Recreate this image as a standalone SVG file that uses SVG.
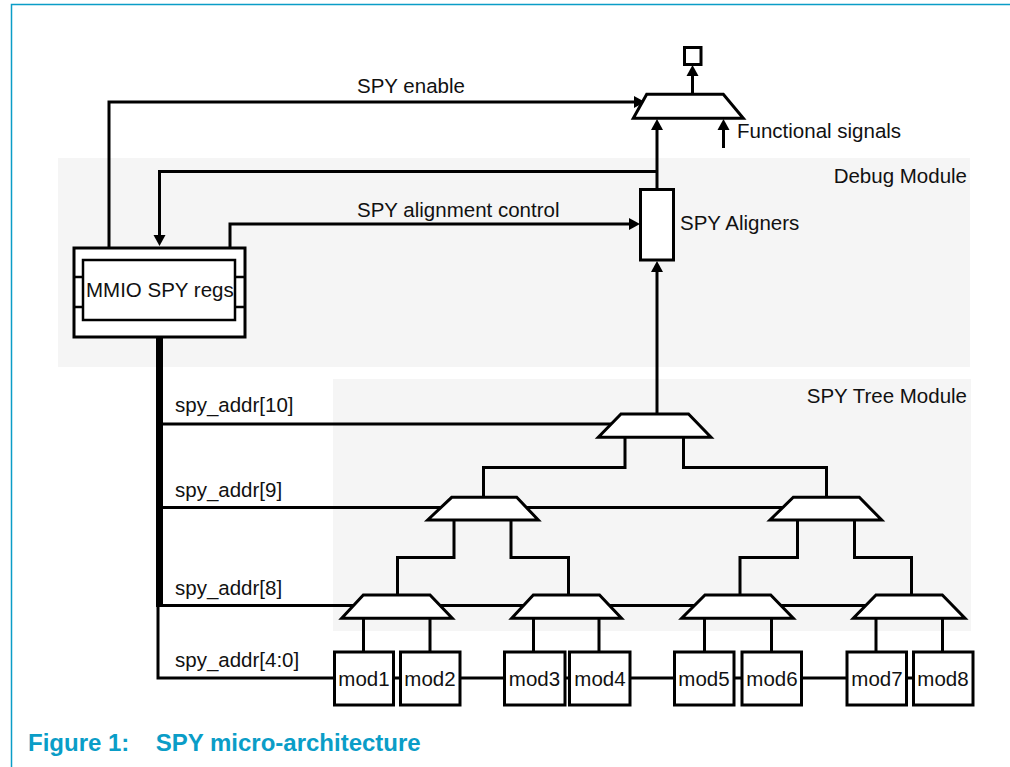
<svg xmlns="http://www.w3.org/2000/svg" width="1010" height="767" viewBox="0 0 1010 767">
<style>
  .t{font-family:"Liberation Sans",Arial,sans-serif;font-size:20.5px;fill:#111}
  .cap{font-family:"Liberation Sans",Arial,sans-serif;font-size:24px;font-weight:bold;fill:#0a9dc7}
  .w{fill:none;stroke:#000;stroke-width:3}
  .box{fill:#fff;stroke:#000;stroke-width:3}
  .mux{fill:#fff;stroke:#000;stroke-width:3;stroke-linejoin:miter}
  .bg{fill:#f5f5f5}
</style>
<defs>
  <marker id="ah" markerUnits="userSpaceOnUse" markerWidth="12" markerHeight="12" refX="2" refY="6" orient="auto" overflow="visible">
    <path d="M0,0 L11,6 L0,12 z" fill="#000"/>
  </marker>
</defs>
<rect width="1010" height="767" fill="#fff"/>
<path d="M11.5,767 V4.5 H1010" fill="none" stroke="#0a9dc7" stroke-width="1.5"/>

<g id="debug-module">
  <rect class="bg" x="58" y="158" width="912" height="209"/>
  <text class="t" x="967" y="183" text-anchor="end">Debug Module</text>
</g>
<g id="tree-module">
  <rect class="bg" x="333" y="379" width="638" height="252"/>
  <text class="t" x="967" y="402.5" text-anchor="end">SPY Tree Module</text>
</g>

<g id="connectors">
  <path class="w" d="M109,247 V102 H636" marker-end="url(#ah)"/>
  <path class="w" d="M657,171.5 H159.5 V237" marker-end="url(#ah)"/>
  <path class="w" d="M230,247 V224 H631" marker-end="url(#ah)"/>
  <path class="w" d="M657,189 V128" marker-end="url(#ah)"/>
  <path class="w" d="M723.5,148 V128" marker-end="url(#ah)"/>
  <path class="w" d="M692.5,94 V74" marker-end="url(#ah)"/>
  <path class="w" d="M657,414 V270" marker-end="url(#ah)"/>
  <line x1="159.5" y1="337" x2="159.5" y2="607" stroke="#000" stroke-width="7"/>
  <path class="w" d="M158,605 V678 H334"/>
  <line class="w" x1="160" y1="424" x2="625" y2="424"/>
  <line class="w" x1="160" y1="507.5" x2="805" y2="507.5"/>
  <line class="w" x1="160" y1="605.5" x2="885" y2="605.5"/>
  <path class="w" d="M625,437 V467.5 H483.5 V497"/>
  <path class="w" d="M683.5,437 V467.5 H826.5 V497"/>
  <path class="w" d="M454,520 V557.5 H397.5 V595"/>
  <path class="w" d="M511,520 V557.5 H568.5 V595"/>
  <path class="w" d="M797.5,520 V557.5 H740 V595"/>
  <path class="w" d="M854.5,520 V557.5 H911.5 V595"/>
  <path class="w" d="M363.5,618 V652 M430,618 V652 M533.5,618 V652 M599,618 V652 M704.5,618 V652 M771.5,618 V652 M876,618 V652 M942.5,618 V652"/>
  <path class="w" d="M393,678 H400 M460,678 H504 M565,678 H569 M630,678 H674 M734,678 H742 M802,678 H847 M907,678 H913"/>
</g>

<g id="output-pin">
  <rect class="box" x="684.5" y="47.5" width="16.5" height="17"/>
</g>
<g id="spy-mux">
  <polygon class="mux" points="646.7,94.3 723.3,94.3 743.3,118.3 633.3,118.3"/>
</g>
<g id="labels">
  <text class="t" x="357" y="93">SPY enable</text>
  <text class="t" x="357" y="216.5">SPY alignment control</text>
  <text class="t" x="737" y="138">Functional signals</text>
</g>
<g id="spy-aligners">
  <rect class="box" x="640.5" y="189.5" width="33" height="70.5"/>
  <text class="t" x="680" y="230">SPY Aligners</text>
</g>
<g id="mmio-spy-regs">
  <rect class="box" x="74" y="248" width="171" height="89"/>
  <rect x="83" y="260" width="152" height="60" fill="#fff" stroke="#000" stroke-width="2.5"/>
  <path d="M74,277 H83 M74,307 H83 M235,277 H245 M235,307 H245" stroke="#000" stroke-width="2.5"/>
  <text class="t" x="86" y="297">MMIO SPY regs</text>
</g>
<g id="mux-l10">
  <polygon class="mux" points="621,414 688.5,414 711,437.3 598.3,437.3"/>
</g>
<g id="mux-l9a">
  <polygon class="mux" points="451.7,497.3 516.7,497.3 538.3,520 427.7,520"/>
</g>
<g id="mux-l9b">
  <polygon class="mux" points="793.3,497.3 859.3,497.3 881.7,520 770,520"/>
</g>
<g id="mux-l8a">
  <polygon class="mux" points="363.3,595 430,595 452.3,618.3 341.7,618.3"/>
</g>
<g id="mux-l8b">
  <polygon class="mux" points="533.3,595 599.5,595 621.5,618.3 511.7,618.3"/>
</g>
<g id="mux-l8c">
  <polygon class="mux" points="705,595 770.7,595 793.3,618.3 681.7,618.3"/>
</g>
<g id="mux-l8d">
  <polygon class="mux" points="876,595 942.3,595 965,618.3 853.3,618.3"/>
</g>
<g id="addr-labels">
  <text class="t" x="175" y="411.7">spy_addr[10]</text>
  <text class="t" x="175" y="496.7">spy_addr[9]</text>
  <text class="t" x="175" y="595">spy_addr[8]</text>
  <text class="t" x="175" y="667.3">spy_addr[4:0]</text>
</g>
<g id="mod1"><rect class="box" x="334.5" y="652" width="59" height="53"/><text class="t" x="364" y="685.5" text-anchor="middle">mod1</text></g>
<g id="mod2"><rect class="box" x="400.5" y="652" width="59.5" height="53"/><text class="t" x="430" y="685.5" text-anchor="middle">mod2</text></g>
<g id="mod3"><rect class="box" x="504.5" y="652" width="60.5" height="53"/><text class="t" x="534.5" y="685.5" text-anchor="middle">mod3</text></g>
<g id="mod4"><rect class="box" x="569.5" y="652" width="60.5" height="53"/><text class="t" x="600" y="685.5" text-anchor="middle">mod4</text></g>
<g id="mod5"><rect class="box" x="674.5" y="652" width="59.5" height="53"/><text class="t" x="704" y="685.5" text-anchor="middle">mod5</text></g>
<g id="mod6"><rect class="box" x="742" y="652" width="59.5" height="53"/><text class="t" x="772" y="685.5" text-anchor="middle">mod6</text></g>
<g id="mod7"><rect class="box" x="847" y="652" width="59.5" height="53"/><text class="t" x="877" y="685.5" text-anchor="middle">mod7</text></g>
<g id="mod8"><rect class="box" x="913.5" y="652" width="59.5" height="53"/><text class="t" x="943" y="685.5" text-anchor="middle">mod8</text></g>
<g id="caption">
  <text class="cap" x="28" y="750.7">Figure 1:</text>
  <text class="cap" x="155.7" y="750.7">SPY micro-architecture</text>
</g>
</svg>
